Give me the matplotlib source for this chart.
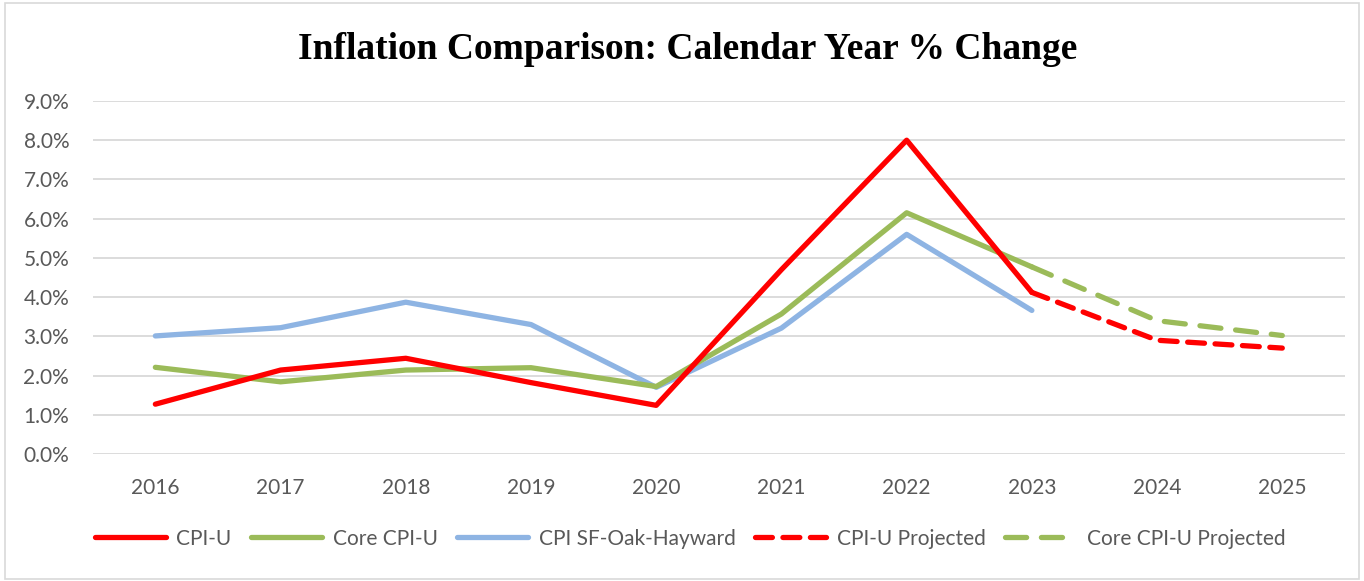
import matplotlib
matplotlib.use("Agg")
import matplotlib.pyplot as plt
import numpy as np

years = ["2016", "2017", "2018", "2019", "2020", "2021", "2022", "2023", "2024", "2025"]
cpi_u = [1.27, 2.14, 2.44, 1.82, 1.24, 4.70, 8.00, 4.12, None, None]
core_cpi_u = [2.21, 1.84, 2.14, 2.20, 1.72, 3.57, 6.15, 4.77, None, None]
cpi_sf = [3.01, 3.22, 3.87, 3.30, 1.70, 3.21, 5.60, 3.66, None, None]
cpi_u_proj = [None, None, None, None, None, None, None, 4.12, 2.90, 2.70]
core_proj = [None, None, None, None, None, None, None, 4.77, 3.40, 3.02]
yticks = [0, 1, 2, 3, 4, 5, 6, 7, 8, 9]

def arr(v):
    return np.array([np.nan if x is None else x for x in v], dtype=float)

fig = plt.figure(figsize=(13.64, 5.81), dpi=100)
ax = fig.add_axes([0.068, 0.2186, 0.918, 0.6076])
x = np.arange(len(years))

red = "#FF0000"
green = "#9BBB59"
blue = "#8EB4E3"
lw = 3.8

ax.plot(x, arr(cpi_u), color=red, lw=lw, label="CPI-U", solid_capstyle="round", zorder=5)
ax.plot(x, arr(core_cpi_u), color=green, lw=lw, label="Core CPI-U", solid_capstyle="round", zorder=4)
ax.plot(x, arr(cpi_sf), color=blue, lw=lw, label="CPI SF-Oak-Hayward", solid_capstyle="round", zorder=3)
ax.plot(x, arr(cpi_u_proj), color=red, lw=lw, ls=(0, (3.2, 2.0)), dash_capstyle="round",
        label="CPI-U Projected", zorder=5)
ax.plot(x, arr(core_proj), color=green, lw=lw, ls=(0, (4.0, 2.8)), dash_capstyle="round",
        label="Core CPI-U Projected", zorder=4)

ax.set_xlim(-0.5, len(years) - 0.5)
ax.set_ylim(0, 9)
ax.set_yticks(yticks)
ax.set_yticklabels([f"{v:.1f}%" for v in yticks])
ax.set_xticks(x)
ax.set_xticklabels(years)
ax.grid(axis="y", color="#d9d9d9", lw=1.3)
ax.set_axisbelow(True)
for s in ax.spines.values():
    s.set_visible(False)
ax.tick_params(length=0, labelsize=15, labelcolor="#595959")
ax.tick_params(axis="y", pad=17)
ax.tick_params(axis="x", pad=17)
for lab in ax.get_xticklabels() + ax.get_yticklabels():
    lab.set_family("Lato")

fig.text(0.504, 0.915, "Inflation Comparison: Calendar Year % Change", ha="center", va="center",
         family="Liberation Serif", weight="bold", fontsize=27, color="black")

leg = fig.legend(loc="center", bbox_to_anchor=(0.506, 0.073), ncol=5, frameon=False,
                 handlelength=3.4, columnspacing=0.95, handletextpad=0.5,
                 prop={"family": "Lato", "size": 15})
for t in leg.get_texts():
    t.set_color("#595959")

border = plt.Rectangle((0.004, 0.004), 0.992, 0.99, transform=fig.transFigure, fill=False,
                       edgecolor="#d9d9d9", lw=1.2)
fig.add_artist(border)

fig.savefig("out.png", dpi=100, facecolor="white")
